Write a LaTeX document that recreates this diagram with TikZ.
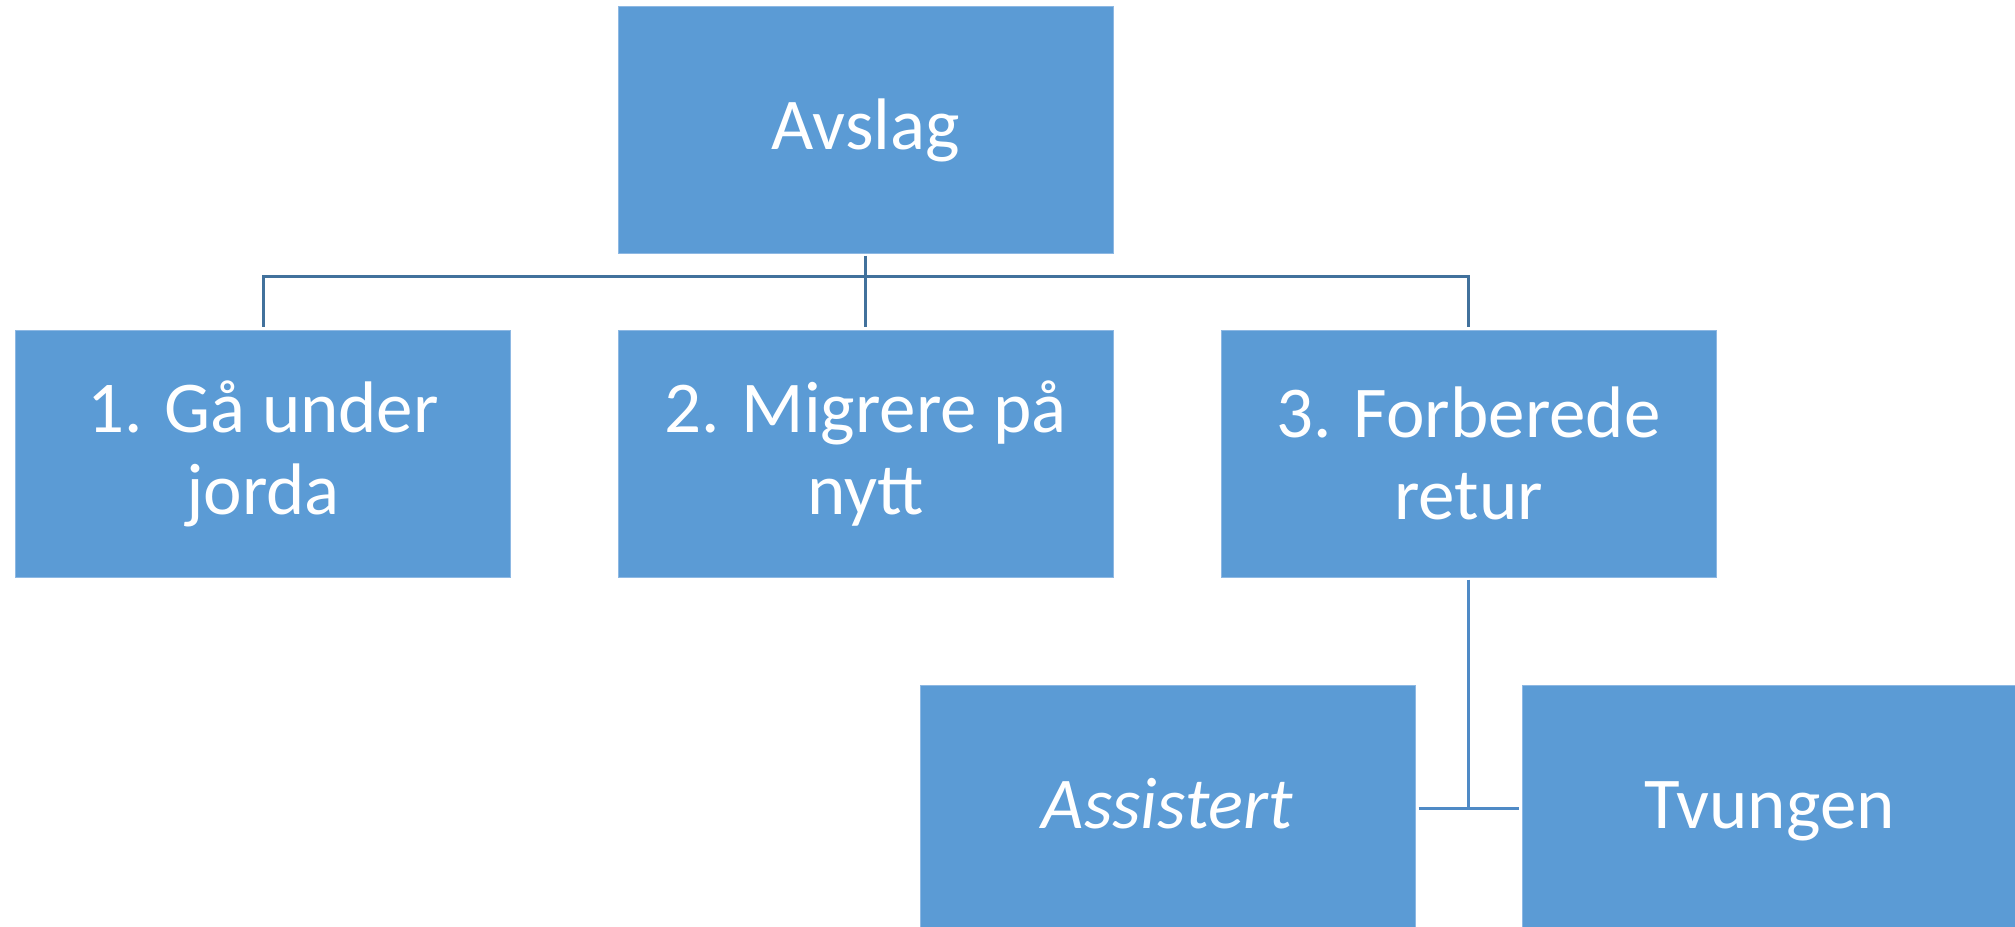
\documentclass[tikz,border=0pt]{standalone}
\usepackage{fontspec}
\setmainfont{Carlito}
\definecolor{boxblue}{HTML}{5B9BD5}
\definecolor{edgeblue}{HTML}{8DB8E3}
\definecolor{linedark}{HTML}{41719C}
\definecolor{linelight}{HTML}{4F8AC6}
\begin{document}
\begin{tikzpicture}[x=1pt,y=-1pt,
  box/.style={rectangle, fill=boxblue, draw=edgeblue, line width=1pt,
    minimum width=495pt, minimum height=247pt, inner sep=0pt,
    text=white, font=\fontsize{73}{82}\selectfont},
  oneline/.style={text height=50pt, text depth=10pt},
  conn/.style={draw=linedark, line width=3pt},
  conn2/.style={draw=linelight, line width=2.5pt}]
\useasboundingbox (0,0) rectangle (2015,926);
\clip (0,0) rectangle (2015,926);
\node[box, oneline] (top) at (865.5,129.5) {Avslag};
\node[box, align=center] (b1) at (263,453.5) {1. Gå under\\jorda};
\node[box, align=center] (b2) at (865.5,453.5) {2. Migrere på\\nytt};
\node[box, align=center] (b3) at (1468.5,453.5) {3. Forberede\\retur};
\node[box, oneline] (as) at (1167.5,808.5) {\textit{Assistert}};
\node[box, oneline] (tv) at (1769.5,808.5) {Tvungen};
\coordinate (hub) at (865.5,276);
\draw[conn] ([yshift=-2pt]top.south) -- ([yshift=3pt]b2.north);
\draw[conn] ([yshift=3pt]b1.north) |- (hub) -| ([yshift=3pt]b3.north);
\coordinate (hub2) at (b3.south |- as.east);
\draw[conn2] ([yshift=-2pt]b3.south) -- (hub2);
\draw[conn2] ([xshift=3pt]as.east) -- ([xshift=-3pt]tv.west);
\end{tikzpicture}
\end{document}
